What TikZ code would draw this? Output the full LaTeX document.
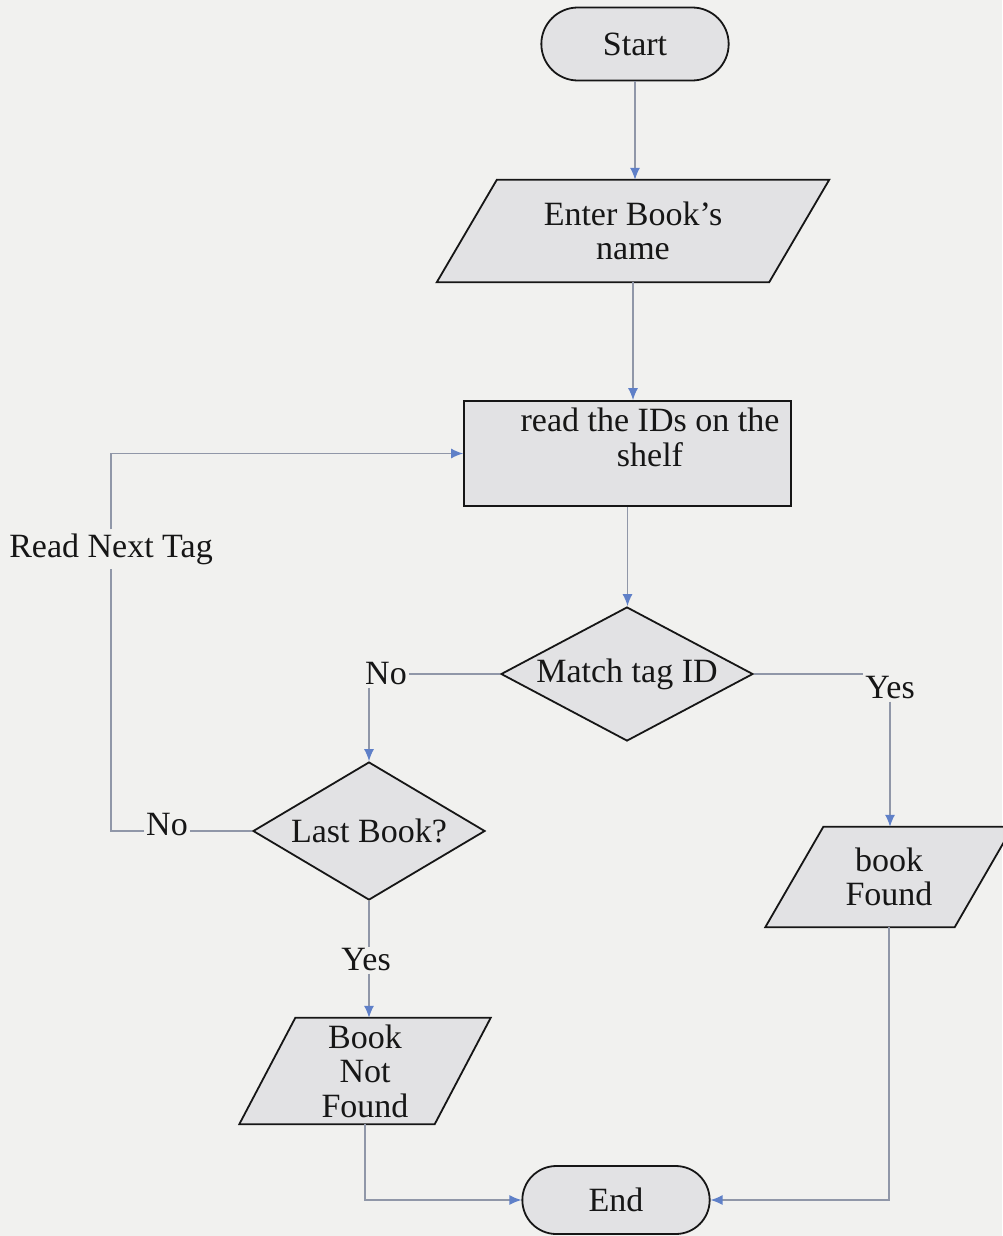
\documentclass[tikz,border=0pt]{standalone}
\usepackage{fontspec}
\setmainfont{Liberation Serif}
\usetikzlibrary{shapes.geometric,shapes.misc,arrows.meta,backgrounds}

\definecolor{paper}{HTML}{F1F1EF}
\definecolor{boxfill}{HTML}{E2E2E4}
\definecolor{ink}{HTML}{161616}
\definecolor{wire}{HTML}{9097A8}
\definecolor{tipblue}{HTML}{5F80C8}

\tikzset{
  every node/.style={font=\fontsize{34}{34.5}\selectfont, text=ink},
  outline/.style={draw=ink, line width=1.8pt, fill=boxfill},
  terminal/.style={outline, rounded rectangle, minimum width=194pt},
  process/.style={outline, rectangle, minimum width=327pt, minimum height=105pt},
  decision/.style={outline, diamond, inner sep=0pt},
  iobox/.style={rectangle, inner sep=0pt, align=center},
  tag/.style={inner sep=2pt},
  conn/.style={draw=wire, line width=1.3pt},
  flow/.style={conn, -{Latex[length=12pt,width=10pt,color=tipblue]}},
}

% slanted outline behind an input/output node: #1 node name, #2 half of the slant
\newcommand\ioshape[2]{%
  \draw[outline] ([xshift=#2]#1.north west) -- ([xshift=#2]#1.north east)
    -- ([xshift=-#2]#1.south east) -- ([xshift=-#2]#1.south west) -- cycle;}

\begin{document}
\begin{tikzpicture}[x=1pt, y=-1pt]
  \useasboundingbox (0,0) rectangle (1002,1236);
  \begin{scope}[on background layer]
    \fill[paper] (0,0) rectangle (1002,1236);
  \end{scope}

  % shapes
  \node[terminal, minimum height=73pt] (start) at (635,44) {Start};
  \node[iobox, minimum width=332pt, minimum height=102pt] (enter) at (633,231) {Enter Book's\\name};
  \node[process] (readbox) at (627.5,453.5) {};
  \node[align=center, font=\fontsize{34}{35}\selectfont] (readtxt) at (650,437.5) {read the IDs on the\\shelf};
  \node[decision, aspect=1.88, minimum width=252pt, minimum height=134pt] (match) at (627,674) {Match tag ID};
  \node[decision, aspect=1.68, minimum width=232pt, minimum height=138pt] (lastbook) at (369,831) {Last Book?};
  \node[iobox, minimum width=189pt, minimum height=100pt] (bookfound) at (889,877) {book\\Found};
  \node[iobox, minimum width=195pt, minimum height=106pt] (booknot) at (365,1071) {Book\\Not\\Found};
  \node[terminal, minimum height=68pt] (end) at (616,1200) {End};

  \begin{scope}[on background layer]
    \ioshape{enter}{30pt}
    \ioshape{bookfound}{29pt}
    \ioshape{booknot}{28pt}
  \end{scope}

  % branch labels
  \node[tag] (yes1) at (890,688) {Yes};
  \node[tag] (no1) at (386,674) {No};
  \node[tag] (no2) at (167,825) {No};
  \node[tag] (yes2) at (366,960) {Yes};
  \node[tag, inner sep=4pt] (readnext) at (111,549) {Read Next Tag};

  % connectors
  \draw[flow] (start.south) -- (start.south |- enter.north);
  \draw[flow] (enter.south) -- (enter.south |- readbox.north);
  \draw[flow] (readbox.south) -- (readbox.south |- match.north);

  \draw[conn] (match.east) -- (match.east -| yes1.west);
  \draw[flow] (yes1.south) -- (yes1.south |- bookfound.north);

  \draw[conn] (match.west) -- (match.west -| no1.east);
  \draw[flow] (no1.south -| lastbook.north) -- (lastbook.north);

  \draw[conn] (lastbook.west) -- (lastbook.west -| no2.east);
  \draw[conn] (no2.west |- lastbook.west) -| (readnext.south);
  \draw[flow] (readnext.north) |- (readbox.west);

  \draw[conn] (lastbook.south) -- (lastbook.south |- yes2.north);
  \draw[flow] (lastbook.south |- yes2.south) -- (lastbook.south |- booknot.north);

  \draw[flow] (booknot.south) |- (end.west);
  \draw[flow] (bookfound.south) |- (end.east);
\end{tikzpicture}
\end{document}
